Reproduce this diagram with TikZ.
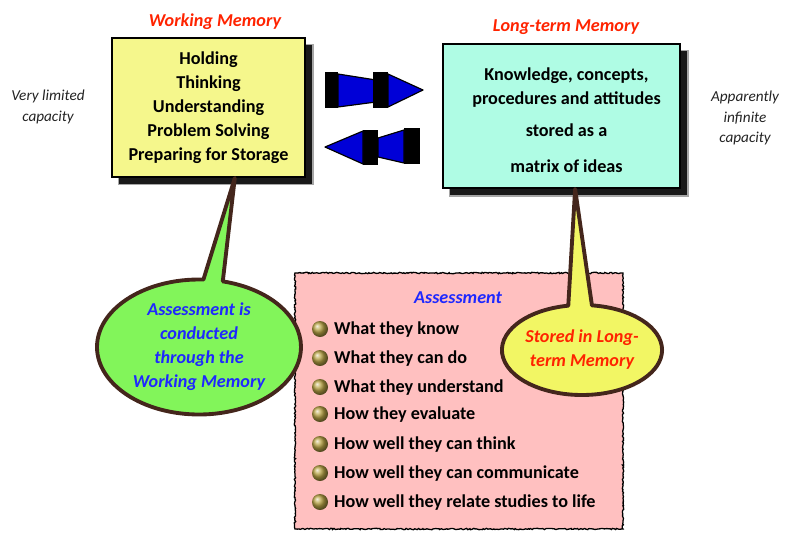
\documentclass[tikz,border=0pt]{standalone}
\usepackage{fontspec}
\setmainfont{Carlito}
\usepackage{tikz}
\usepackage{xcolor}
\usetikzlibrary{positioning,calc,shadows,shapes.callouts,decorations.pathmorphing}
\definecolor{wmyellow}{RGB}{245,247,140}
\definecolor{ltmcyan}{RGB}{175,252,228}
\definecolor{assesspink}{RGB}{255,192,192}
\definecolor{notegreen}{RGB}{130,245,90}
\definecolor{noteyellow}{RGB}{242,246,100}
\definecolor{notebrown}{RGB}{68,38,28}
\definecolor{titlered}{RGB}{255,35,0}
\definecolor{noteblue}{RGB}{30,40,255}
\definecolor{arrowblue}{RGB}{0,0,215}
\definecolor{sidegray}{RGB}{35,35,35}
\definecolor{ballgold}{RGB}{185,165,70}
\tikzset{
    membox/.style={
        rectangle,
        draw=black,
        line width=1.6pt,
        align=center,
        inner sep=0pt,
        general shadow={shadow xshift=0.22cm,shadow yshift=-0.22cm,shadow scale=1.015,opacity=0.35,fill=black},
        drop shadow={shadow xshift=0.22cm,shadow yshift=-0.22cm,opacity=0.85,fill=black},
        font=\bfseries\fontsize{15.5}{20.4}\selectfont
    },
    memtitle/.style={
        text=titlered,
        font=\bfseries\itshape\fontsize{15.5}{19}\selectfont
    },
    sidenote/.style={
        align=center,
        text=sidegray,
        font=\itshape\fontsize{13}{17.5}\selectfont
    },
    bubble/.style={
        ellipse callout,
        draw=notebrown,
        line width=3.3pt,
        line join=round,
        align=center,
        inner sep=0pt,
        font=\bfseries\itshape\fontsize{15.5}{20.4}\selectfont
    },
    listitem/.style={
        anchor=west,
        inner sep=0pt,
        font=\bfseries\fontsize{15.5}{19}\selectfont
    },
    goldball/.style={
        circle,
        shading=ball,
        ball color=ballgold,
        minimum size=0.48cm,
        inner sep=0pt
    },
    blockarr/.style={fill=arrowblue,draw=black,line width=1pt,line join=round}
}
\begin{document}
\begin{tikzpicture}[x=0.03cm,y=-0.03cm]
\useasboundingbox (0,0) rectangle (789,532);

% memory boxes
\node[membox,fill=wmyellow,minimum width=5.79cm,minimum height=4.17cm] (wm) at (208.5,107.5)
    {Holding\\Thinking\\Understanding\\Problem Solving\\Preparing for Storage};
\node[membox,fill=ltmcyan,minimum width=7.11cm,minimum height=4.32cm] (ltm) at (561.5,116)
    {\rule{0pt}{18pt}\hspace*{0.3cm}Knowledge, concepts,\\\hspace*{0.3cm}procedures and attitudes\\[7pt]\hspace*{0.3cm}stored as a\\[10pt]\hspace*{0.3cm}matrix of ideas};

\node[memtitle] (wmtitle) at (215,22) {Working Memory};
\node[memtitle] (ltmtitle) at (566,27) {Long-term Memory};

\node[sidenote] (wmcap) at (48,107) {Very limited\\capacity};
\node[sidenote] (ltmcap) at (745,118) {Apparently\\infinite\\capacity};

% transfer arrows
\fill[black] (325,72) rectangle (338,108);
\draw[blockarr] (338,74) -- (376,80) -- (376,102) -- (338,107) -- cycle;
\fill[black] (373,72) rectangle (388,108);
\draw[blockarr] (388,74) -- (423,90) -- (388,107) -- cycle;

\fill[black] (404,128) rectangle (420,164);
\draw[blockarr] (404,130) -- (378,138) -- (378,157) -- (404,163) -- cycle;
\fill[black] (363,130) rectangle (378,165);
\draw[blockarr] (363,131) -- (325,147) -- (363,164) -- cycle;

% assessment list
\node[draw=black,line width=1.1pt,fill=assesspink,minimum width=9.84cm,minimum height=7.68cm,
      decorate,decoration={random steps,segment length=1.2pt,amplitude=0.6pt}] (assess) at (459,401) {};
\node[text=noteblue,font=\bfseries\itshape\fontsize{15.5}{19}\selectfont] (assesstitle) at (458,298) {Assessment};

\node[goldball] (d1) at (320,329) {};
\node[listitem] (i1) at (334,330) {What they know};
\node[goldball] (d2) at (320,358) {};
\node[listitem] (i2) at (334,359) {What they can do};
\node[goldball] (d3) at (320,387) {};
\node[listitem] (i3) at (334,388) {What they understand};
\node[goldball] (d4) at (320,414) {};
\node[listitem] (i4) at (334,415) {How they evaluate};
\node[goldball] (d5) at (320,444) {};
\node[listitem] (i5) at (334,445) {How well they can think};
\node[goldball] (d6) at (320,473) {};
\node[listitem] (i6) at (334,474) {How well they can communicate};
\node[goldball] (d7) at (320,502) {};
\node[listitem] (i7) at (334,503) {How well they relate studies to life};

% speech bubbles
\node[bubble,fill=notegreen,text=noteblue,minimum width=6.12cm,minimum height=4.05cm,callout pointer arc=11,
      callout absolute pointer={($(wm.south west)!0.635!(wm.south east)+(0,0.12)$)}] (wmnote) at (199,347)
    {Assessment is\\conducted\\through the\\Working Memory};
\node[bubble,fill=noteyellow,text=titlered,minimum width=4.11cm,minimum height=2.7cm,callout pointer arc=17,
      callout absolute pointer={($(ltm.south west)!0.557!(ltm.south east)+(0,0.12)$)}] (ltmnote) at (582,350)
    {Stored in Long-\\term Memory};
\end{tikzpicture}
\end{document}
